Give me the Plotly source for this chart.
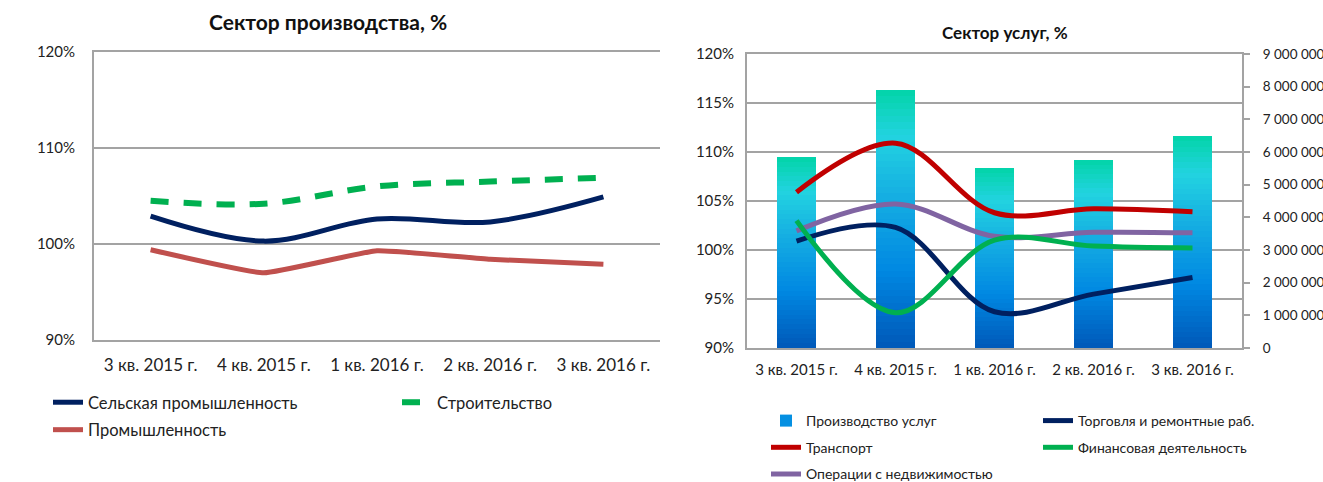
import plotly.graph_objects as go

W, H = 1323, 482

# ---------------- data ----------------
quarters = ["3 кв. 2015 г.", "4 кв. 2015 г.", "1 кв. 2016 г.", "2 кв. 2016 г.", "3 кв. 2016 г."]

# Сектор производства, %
agri = [102.9, 100.3, 102.6, 102.3, 104.9]        # Сельская промышленность
construction = [104.5, 104.2, 106.0, 106.5, 106.9]  # Строительство
industry = [99.4, 97.0, 99.3, 98.4, 97.9]          # Промышленность

# Сектор услуг, %
services_volume = [5840000, 7900000, 5500000, 5760000, 6490000]  # Производство услуг
trade = [100.9, 102.3, 93.7, 95.5, 97.2]          # Торговля и ремонтные раб.
transport = [105.9, 110.9, 103.8, 104.2, 103.9]   # Транспорт
finance = [103.0, 93.6, 101.0, 100.4, 100.2]      # Финансовая деятельность
realty = [101.95, 104.7, 101.4, 101.8, 101.75]    # Операции с недвижимостью

pct_ticks_left = [90, 100, 110, 120]
pct_labels_left = ["90%", "100%", "110%", "120%"]
pct_ticks_right = [90, 95, 100, 105, 110, 115, 120]
pct_labels_right = ["90%", "95%", "100%", "105%", "110%", "115%", "120%"]

# ---------------- style ----------------
FONT = "Lato, 'Open Sans', sans-serif"
GRID = "#a3a3a3"
TXT = "#222222"
NAVY = "#002060"
GREEN = "#00B050"
LRED = "#C0504D"
DRED = "#C00000"
PURPLE = "#8064A2"

# gradient stops for bars (fraction from bottom, rgb)
stops = [
    (0.00, (0, 88, 184)),
    (0.30, (0, 136, 226)),
    (0.60, (22, 176, 226)),
    (0.82, (34, 211, 224)),
    (1.00, (2, 212, 168)),
]


def grad(t):
    for (t0, c0), (t1, c1) in zip(stops[:-1], stops[1:]):
        if t0 <= t <= t1:
            f = (t - t0) / (t1 - t0)
            return "rgb(%d,%d,%d)" % tuple(round(a + (b - a) * f) for a, b in zip(c0, c1))
    return "rgb(%d,%d,%d)" % stops[-1][1]


def px_x(p):
    return p / W


def px_y(p):
    return 1 - p / H


fig = go.Figure()

# ---------- left chart ----------
fig.add_trace(go.Scatter(x=quarters, y=agri, name="Сельская промышленность", mode="lines",
                         line=dict(color=NAVY, width=5, shape="spline", smoothing=1.0),
                         xaxis="x", yaxis="y", legend="legend", legendgroup="a"))
fig.add_trace(go.Scatter(x=quarters, y=industry, name="Промышленность", mode="lines",
                         line=dict(color=LRED, width=5, shape="spline", smoothing=0.35),
                         xaxis="x", yaxis="y", legend="legend", legendgroup="b"))
fig.add_trace(go.Scatter(x=quarters, y=construction, name="Строительство", mode="lines",
                         line=dict(color=GREEN, width=6, shape="spline", smoothing=1.0, dash="18px,15px"),
                         xaxis="x", yaxis="y", legend="legend2", legendgroup="c"))

# ---------- right chart: gradient bars (stacked slices of each bar value) ----------
N = 40
for i in range(N):
    fig.add_trace(go.Bar(
        x=quarters, y=[v / N for v in services_volume],
        marker=dict(color=grad((i + 0.5) / N), line=dict(width=0)),
        name="Производство услуг", showlegend=(i == 14),
        xaxis="x2", yaxis="y2", legend="legend3", legendgroup="s",
        hoverinfo="skip",
    ))

fig.add_trace(go.Scatter(x=quarters, y=transport, name="Транспорт", mode="lines",
                         line=dict(color=DRED, width=5, shape="spline", smoothing=1.0),
                         xaxis="x2", yaxis="y3", legend="legend3", legendgroup="t"))
fig.add_trace(go.Scatter(x=quarters, y=realty, name="Операции с недвижимостью", mode="lines",
                         line=dict(color=PURPLE, width=5, shape="spline", smoothing=1.0),
                         xaxis="x2", yaxis="y3", legend="legend3", legendgroup="r"))
fig.add_trace(go.Scatter(x=quarters, y=trade, name="Торговля и ремонтные раб.", mode="lines",
                         line=dict(color=NAVY, width=5, shape="spline", smoothing=1.0),
                         xaxis="x2", yaxis="y3", legend="legend4", legendgroup="tr"))
fig.add_trace(go.Scatter(x=quarters, y=finance, name="Финансовая деятельность", mode="lines",
                         line=dict(color=GREEN, width=5, shape="spline", smoothing=1.0),
                         xaxis="x2", yaxis="y3", legend="legend4", legendgroup="f"))

axis_common = dict(showline=True, linecolor=GRID, linewidth=2, zeroline=False, fixedrange=True,
                   automargin=False)


def tf(size):
    return dict(family=FONT, size=size, color=TXT)


def leg(x, y, size, gap):
    return dict(x=x, y=y, orientation="v", xanchor="left", yanchor="top", bgcolor="rgba(0,0,0,0)",
                font=tf(size), tracegroupgap=gap, traceorder="grouped", itemwidth=30)


fig.update_layout(
    width=W, height=H,
    margin=dict(l=0, r=0, t=0, b=0, pad=0, autoexpand=False),
    paper_bgcolor="white", plot_bgcolor="rgba(0,0,0,0)",
    font=dict(family=FONT, size=14, color=TXT),
    separators=", ",
    barmode="stack", bargap=0.6,
    xaxis=dict(domain=[px_x(94), px_x(660)], anchor="y", type="category", range=[-0.5, 4.5],
               showgrid=False, ticks="", ticklabelstandoff=9, tickfont=tf(17), mirror=True, **axis_common),
    yaxis=dict(domain=[px_y(340), px_y(52)], anchor="x", range=[90, 120], tickvals=pct_ticks_left,
               ticktext=pct_labels_left, showgrid=True, gridcolor=GRID, gridwidth=2,
               ticks="", ticklabelstandoff=14, tickfont=tf(15), **axis_common),
    xaxis2=dict(domain=[px_x(747), px_x(1242)], anchor="y2", type="category", range=[-0.5, 4.5],
                showgrid=False, ticks="", ticklabelstandoff=7, tickfont=tf(15), mirror=True, **axis_common),
    yaxis2=dict(domain=[px_y(348), px_y(54)], anchor="x2", side="right", range=[0, 9000000],
                dtick=1000000, tickformat=",d", showgrid=False, ticks="outside", ticklen=6,
                tickcolor=GRID, tickwidth=2, ticklabelstandoff=10, tickfont=tf(13.5), **axis_common),
    yaxis3=dict(overlaying="y2", anchor="x2", side="left", range=[90, 120], tickvals=pct_ticks_right,
                ticktext=pct_labels_right, showgrid=True, gridcolor=GRID, gridwidth=2,
                ticks="", ticklabelstandoff=8, tickfont=tf(15), **axis_common),
    legend=leg(px_x(48), px_y(385), 16.5, 3),
    legend2=leg(px_x(397), px_y(385), 16.5, 3),
    legend3=leg(px_x(766), px_y(405), 14, 5.5),
    legend4=leg(px_x(1038), px_y(405), 14, 5.5),
    annotations=[
        dict(text="<b>Сектор производства, %</b>", x=px_x(328), y=px_y(22), xref="paper", yref="paper",
             showarrow=False, font=dict(family=FONT, size=21, color="#111"), xanchor="center", yanchor="middle"),
        dict(text="<b>Сектор услуг, %</b>", x=px_x(1005), y=px_y(33), xref="paper", yref="paper",
             showarrow=False, font=dict(family=FONT, size=17, color="#111"), xanchor="center", yanchor="middle"),
    ],
)

fig.write_html("out.html", config={"displayModeBar": False},
               post_script="document.body.style.margin='0';document.body.style.padding='0';")
